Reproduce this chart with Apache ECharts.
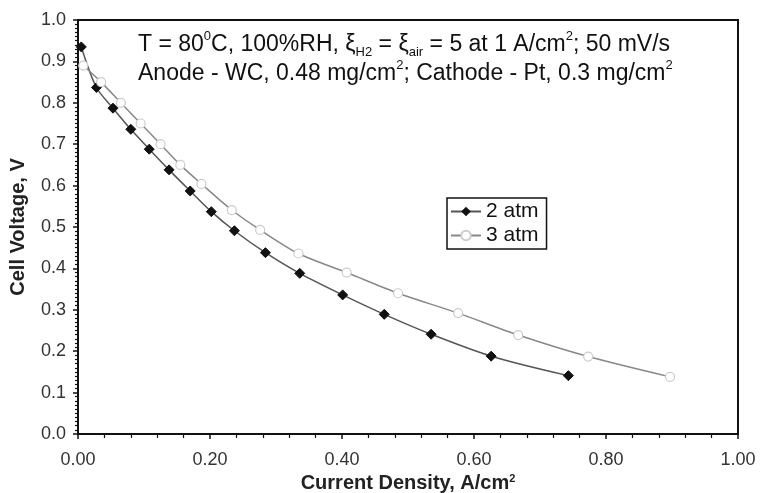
<!DOCTYPE html>
<html>
<head>
<meta charset="utf-8">
<script src="https://cdn.jsdelivr.net/npm/echarts@6/dist/echarts.min.js"></script>
<style>
html,body{margin:0;padding:0;background:#fff;}
#c{width:765px;height:493px;}
</style>
</head>
<body>
<div id="c"></div>
<script>
var seriesNames = ['2 atm', '3 atm'];
var x2atm = [0.005, 0.028, 0.053, 0.080, 0.108, 0.138, 0.170, 0.202, 0.237, 0.284, 0.336, 0.401, 0.464, 0.535, 0.626, 0.743];
var y2atm = [0.935, 0.837, 0.787, 0.736, 0.688, 0.638, 0.587, 0.537, 0.491, 0.438, 0.388, 0.336, 0.289, 0.241, 0.188, 0.141];
var x3atm = [0.008, 0.035, 0.065, 0.095, 0.125, 0.155, 0.187, 0.233, 0.276, 0.334, 0.407, 0.485, 0.576, 0.667, 0.773, 0.897];
var y3atm = [0.890, 0.850, 0.800, 0.750, 0.700, 0.650, 0.604, 0.541, 0.493, 0.436, 0.390, 0.340, 0.292, 0.239, 0.187, 0.138];
var xTicks = [0.00, 0.20, 0.40, 0.60, 0.80, 1.00];
var yTicks = [0.0, 0.1, 0.2, 0.3, 0.4, 0.5, 0.6, 0.7, 0.8, 0.9, 1.0];

function pairs(xs, ys){ return xs.map(function(x,i){ return [x, ys[i]]; }); }

var chart = echarts.init(document.getElementById('c'));
var font = 'Liberation Sans, Arial, sans-serif';
chart.setOption({
  animation: false,
  backgroundColor: '#fff',
  grid: {left: 78, right: 27, top: 20, bottom: 59, show: true, borderColor: '#111', borderWidth: 2,
         backgroundColor: 'transparent', containLabel: false, outerBoundsMode: 'none'},
  xAxis: {
    type: 'value', min: xTicks[0], max: xTicks[xTicks.length-1], interval: 0.2,
    name: 'Current Density, A/cm{sup|2}', nameLocation: 'middle', nameGap: 38,
    nameTextStyle: {fontFamily: font, fontSize: 20, fontWeight: 'bold', color: '#222',
      rich: {sup: {fontFamily: font, fontSize: 11, fontWeight: 'bold', verticalAlign: 'top', lineHeight: 12, color: '#222'}}},
    axisLine: {lineStyle: {color: '#111', width: 2}},
    axisTick: {show: true, inside: false, length: 5, lineStyle: {color: '#111', width: 1.5}},
    minorTick: {show: true, splitNumber: 5, length: 4, lineStyle: {color: '#111', width: 1.2}},
    splitLine: {show: false},
    axisLabel: {fontFamily: font, fontSize: 18, color: '#333', margin: 17, formatter: function(v){ return v.toFixed(2); }}
  },
  yAxis: {
    type: 'value', min: yTicks[0], max: yTicks[yTicks.length-1], interval: 0.1,
    name: 'Cell Voltage, V', nameLocation: 'middle', nameGap: 50,
    nameTextStyle: {fontFamily: font, fontSize: 20, fontWeight: 'bold', color: '#222'},
    axisLine: {lineStyle: {color: '#111', width: 2}},
    axisTick: {show: true, inside: false, length: 5, lineStyle: {color: '#111', width: 1.5}},
    minorTick: {show: true, splitNumber: 10, length: 3, lineStyle: {color: '#111', width: 1.2}},
    splitLine: {show: false},
    axisLabel: {fontFamily: font, fontSize: 18, color: '#333', margin: 12, formatter: function(v){ return v.toFixed(1); }}
  },
  legend: {
    orient: 'vertical', left: 447, top: 198, itemGap: 3, itemWidth: 30, itemHeight: 12,
    padding: [3, 8, 3, 3], borderColor: '#111', borderWidth: 1.5, backgroundColor: '#fff',
    textStyle: {fontFamily: font, fontSize: 21, color: '#111'},
    data: seriesNames
  },
  series: [
    {
      name: seriesNames[0], type: 'line', smooth: 0.3, data: pairs(x2atm, y2atm),
      symbol: 'diamond', symbolSize: 10,
      itemStyle: {color: '#111', borderColor: '#111'},
      lineStyle: {color: '#555', width: 1.5}
    },
    {
      name: seriesNames[1], type: 'line', smooth: 0.3, data: pairs(x3atm, y3atm),
      symbol: 'circle', symbolSize: 9,
      itemStyle: {color: '#fff', borderColor: '#ccc', borderWidth: 1.2},
      lineStyle: {color: '#888', width: 1.5}
    }
  ],
  graphic: [
    {
      type: 'text', left: 138, top: 30,
      style: {
        text: 'T = 80{sup|0}C, 100%RH, ξ{sub|H2} = ξ{sub|air} = 5 at 1 A/cm{sup|2}; 50 mV/s\nAnode - WC, 0.48 mg/cm{sup|2}; Cathode - Pt, 0.3 mg/cm{sup|2}',
        fontFamily: font, fontSize: 23, fill: '#111', lineHeight: 29,
        rich: {
          sup: {fontFamily: font, fontSize: 13, fill: '#111', verticalAlign: 'top', lineHeight: 14},
          sub: {fontFamily: font, fontSize: 13, fill: '#111', verticalAlign: 'bottom', lineHeight: 14}
        }
      }
    }
  ]
});
</script>
</body>
</html>
